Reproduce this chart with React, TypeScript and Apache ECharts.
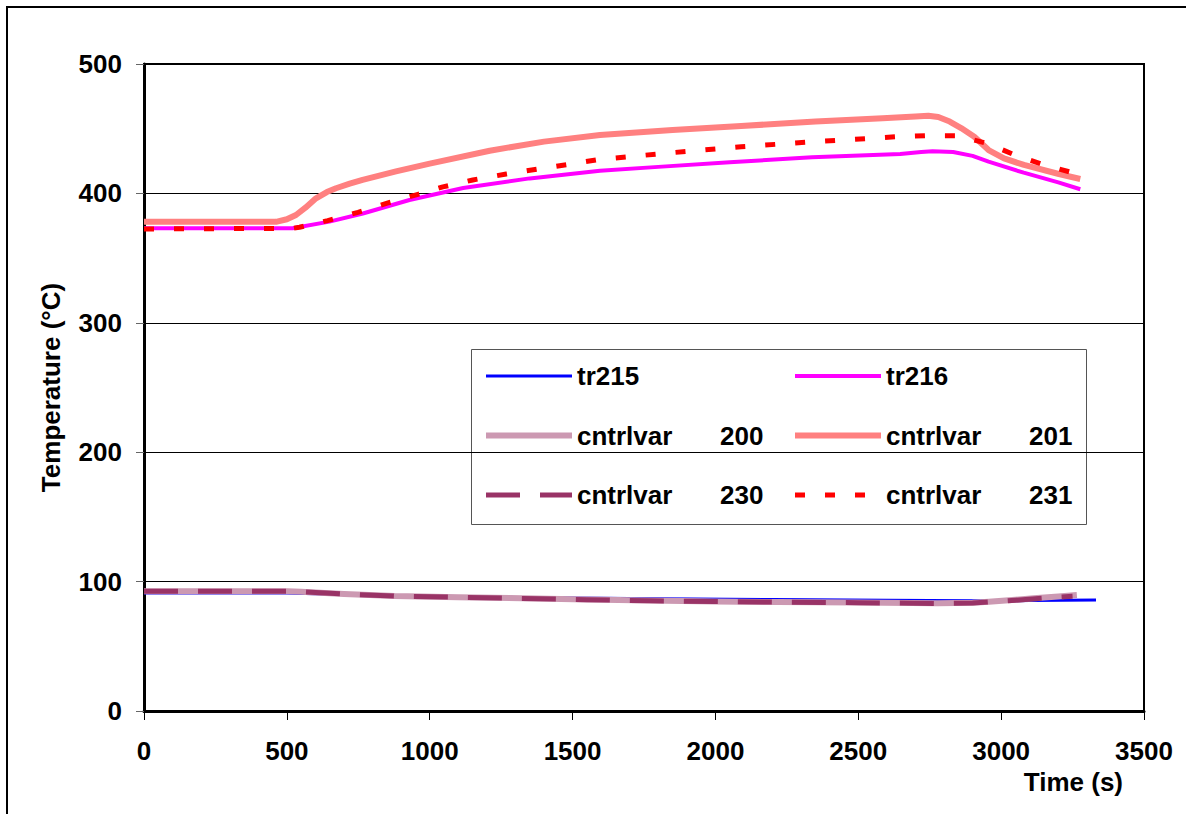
import React, { useEffect, useRef } from "react";
import * as echarts from "echarts";

const FONT = "'Liberation Sans', Arial, sans-serif";

const yTicks = [0, 100, 200, 300, 400, 500];
const xTicks = [0, 500, 1000, 1500, 2000, 2500, 3000, 3500];

const tr215T = [0, 500, 600, 900, 1300, 1800, 2200, 2600, 2900, 3100, 3332];
const tr215V = [91.2, 91.2, 90.6, 89, 87.8, 86.8, 86.2, 85.6, 85.2, 85.3, 85.8];

const tr216T = [0, 520, 649, 766, 929, 1117, 1350, 1596, 1800, 2050, 2338, 2647, 2720, 2760, 2832, 2900, 2956, 3079, 3200, 3277];
const tr216V = [373, 373, 378.2, 384.5, 394.9, 404.2, 411.6, 417.5, 420.5, 424, 427.9, 430.4, 432, 432.5, 432, 429, 424.5, 416, 408.5, 403.2];

const cv200T = [0, 500, 550, 700, 877, 1100, 1324, 1550, 1771, 2000, 2219, 2500, 2778, 2900, 2957, 3050, 3114, 3200, 3265];
const cv200V = [92.5, 92.5, 92.2, 90.5, 88.9, 88, 87.1, 86.2, 85.3, 84.7, 84.2, 83.8, 83.2, 83.6, 84.5, 86, 87.1, 88.5, 89.6];

const cv201T = [0, 462, 500, 532, 565, 602, 640, 672, 720, 765, 882, 1000, 1210, 1400, 1596, 1850, 2090, 2350, 2585, 2700, 2745, 2780, 2820, 2860, 2906, 2956, 3010, 3080, 3202, 3277];
const cv201V = [378, 378, 380, 383.3, 389, 396.2, 401, 404, 407.5, 410.5, 417, 423, 433, 440, 445.1, 449, 452.1, 455.5, 458, 459.5, 460, 459, 455.5, 450.5, 443.8, 433.5, 427, 422, 415, 411.1];

const cv230T = [0, 500, 560, 700, 877, 1100, 1324, 1550, 1771, 2000, 2219, 2500, 2778, 2900, 2960, 3050, 3120, 3200, 3250];
const cv230V = [92.5, 92.5, 92.1, 90.4, 88.8, 87.9, 87, 86, 85.2, 84.6, 84.1, 83.7, 83.1, 83.4, 84.3, 85.6, 86.8, 88, 88.6];

const cv231T = [0, 520, 544, 643, 749, 854, 959, 1046, 1151, 1268, 1400, 1596, 1850, 2090, 2350, 2634, 2739, 2845, 2950, 3055, 3160, 3259];
const cv231V = [372.5, 373, 373.8, 379, 385.4, 392.6, 399.3, 405, 410.4, 415, 419.5, 426.3, 431.5, 436.1, 440, 443.8, 444.6, 444.6, 438.7, 429.1, 421.4, 415.5];

const zip = (t: number[], v: number[]) => t.map((x, i) => [x, v[i]]);

export default function App() {
  const ref = useRef<HTMLDivElement>(null);
  useEffect(() => {
    if (!ref.current) return;
    const chart = echarts.init(ref.current, null, { renderer: "svg" });
    const txt = { fontFamily: FONT, fontWeight: "bold" as const, fontSize: 26, color: "#000" };
    const legendCommon = {
      orient: "vertical" as const,
      itemWidth: 86,
      itemHeight: 30,
      itemGap: 33.5,
      selectedMode: false,
      padding: 0,
      itemStyle: { opacity: 0 },
      lineStyle: { width: "inherit" },
      formatter: (name: string) => {
        const [a, b] = name.split(" ");
        return b ? `{a|${a}}{b|${b}}` : `{a|${a}}`;
      },
      textStyle: {
        ...txt,
        padding: [0, 0, 0, 0],
        rich: {
          a: { ...txt, width: 143 },
          b: { ...txt },
        },
      },
    };
    const line = (name: string, t: number[], v: number[], color: string, width: number, type: any = "solid") => ({
      name,
      type: "line",
      data: zip(t, v),
      symbol: "none",
      showSymbol: false,
      lineStyle: { color, width, type, cap: "butt", join: "round" },
      itemStyle: { color },
      z: 3,
    });
    chart.setOption({
      animation: false,
      backgroundColor: "#fff",
      grid: { left: 144, right: 42, top: 64, bottom: 103, show: true, borderColor: "#000", borderWidth: 2, backgroundColor: "transparent" },
      xAxis: {
        type: "value",
        min: xTicks[0],
        max: xTicks[xTicks.length - 1],
        interval: 500,
        axisLine: { show: true, onZero: false, lineStyle: { color: "#000", width: 3 } },
        axisTick: { show: true, length: 9, lineStyle: { color: "#000", width: 1 } },
        axisLabel: { ...txt, margin: 27, formatter: (v: number) => String(v) },
        splitLine: { show: false },
      },
      yAxis: {
        type: "value",
        min: yTicks[0],
        max: yTicks[yTicks.length - 1],
        interval: 100,
        name: "Temperature (°C)",
        nameLocation: "middle",
        nameGap: 80,
        nameTextStyle: { ...txt },
        axisLine: { show: true, lineStyle: { color: "#000", width: 3 } },
        axisTick: { show: true, length: 8, lineStyle: { color: "#666", width: 1 } },
        axisLabel: { ...txt, margin: 22, formatter: (v: number) => String(v) },
        splitLine: { show: true, lineStyle: { color: "#000", width: 1 } },
      },
      legend: [
        { ...legendCommon, left: 483, top: 363, data: ["tr215", "cntrlvar 200", "cntrlvar 230"] },
        { ...legendCommon, left: 792, top: 363, data: ["tr216", "cntrlvar 201", "cntrlvar 231"] },
      ],
      graphic: [
        { type: "polyline", shape: { points: [[7, 814], [7, 7], [1186, 7]] }, style: { stroke: "#000", lineWidth: 2, fill: null }, z: 10 },
        { type: "rect", shape: { x: 471.5, y: 349.5, width: 615, height: 175 }, style: { stroke: "#555", lineWidth: 1, fill: "#fff" }, z: 0 },
        { type: "text", x: 1123, y: 782, style: { text: "Time (s)", ...txt, fill: "#000", font: `bold 26px ${FONT}`, textAlign: "right", textVerticalAlign: "middle" }, z: 10 },
      ],
      series: [
        line("tr215", tr215T, tr215V, "#0000FF", 3),
        line("tr216", tr216T, tr216V, "#FF00FF", 4),
        line("cntrlvar 200", cv200T, cv200V, "#CC99B2", 6),
        line("cntrlvar 201", cv201T, cv201V, "#FF8080", 6),
        line("cntrlvar 230", cv230T, cv230V, "#993366", 5, [34, 20]),
        line("cntrlvar 231", cv231T, cv231V, "#FF0000", 5, [10, 20]),
      ],
    });
    return () => chart.dispose();
  }, []);
  return <div ref={ref} style={{ position: "absolute", left: 0, top: 0, width: 1186, height: 814 }} />;
}
